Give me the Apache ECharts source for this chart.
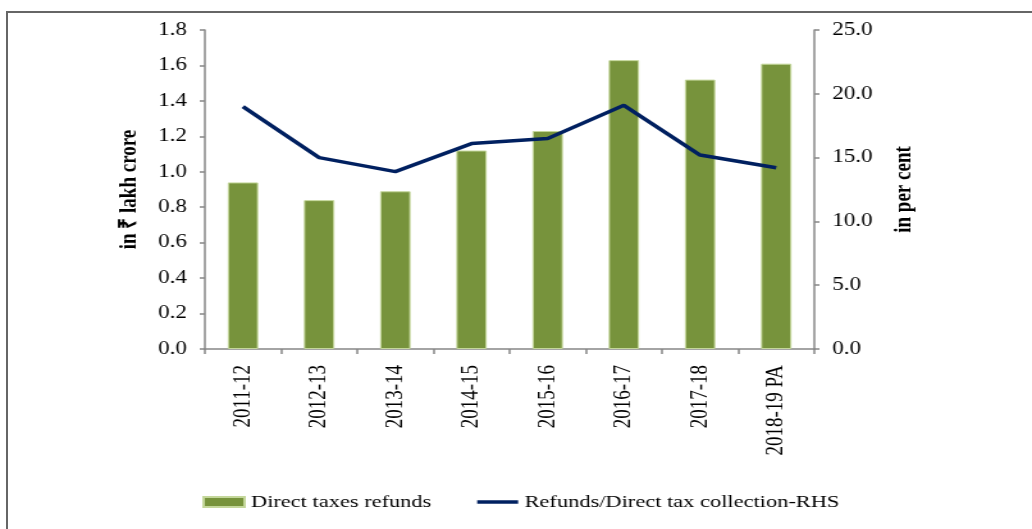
<!DOCTYPE html>
<html>
<head>
<meta charset="utf-8">
<script src="https://cdn.jsdelivr.net/npm/echarts@6/dist/echarts.min.js"></script>
<style>
  html, body { margin: 0; padding: 0; background: #fff; overflow: hidden; }
  #frame { position: absolute; left: 6px; top: 11px; width: 1040px; height: 540px;
           border-left: 2px solid #666; border-top: 2px solid #666; }
  #chart { position: absolute; left: 0; top: 0; width: 806px; height: 529px;
           transform: scaleX(1.2804); transform-origin: 0 0; }
</style>
</head>
<body>
<div id="frame"></div>
<div id="chart"></div>
<script>
const categories = ['2011-12','2012-13','2013-14','2014-15','2015-16','2016-17','2017-18','2018-19 PA'];
const refunds = [0.94, 0.84, 0.89, 1.12, 1.23, 1.63, 1.52, 1.61];
const refundShare = [19.0, 15.0, 13.9, 16.1, 16.5, 19.1, 15.2, 14.2];
const leftTicks = { min: 0, max: 1.8, interval: 0.2 };
const rightTicks = { min: 0, max: 25, interval: 5 };

const FONT = 'Liberation Serif';
const AXIS = '#878787';

const chart = echarts.init(document.getElementById('chart'), null, { renderer: 'canvas' });
chart.setOption({
  animation: false,
  backgroundColor: 'transparent',
  textStyle: { fontFamily: FONT, color: '#000' },
  grid: { left: 160, right: 170, top: 30, bottom: 180, containLabel: false },
  legend: {
    left: 153, top: 488,
    itemWidth: 32, itemHeight: 10, itemGap: 34,
    textStyle: { fontFamily: FONT, fontSize: 17.5, color: '#000' },
    data: [
      { name: 'Direct taxes refunds', icon: 'rect' },
      { name: 'Refunds/Direct tax collection-RHS', itemStyle: { opacity: 0 },
        lineStyle: { color: '#002060', width: 3.5 } }
    ]
  },
  xAxis: {
    type: 'category',
    data: categories,
    axisLine: { lineStyle: { color: AXIS, width: 1.5 } },
    axisTick: { show: true, length: 5, lineStyle: { color: AXIS, width: 1.5 } },
    axisLabel: { rotate: 90, margin: 16, fontFamily: FONT, fontSize: 19, color: '#000', interval: 0 }
  },
  yAxis: [
    {
      type: 'value', min: leftTicks.min, max: leftTicks.max, interval: leftTicks.interval,
      name: 'in ₹ lakh crore', nameLocation: 'middle', nameGap: 49,
      nameTextStyle: { fontFamily: FONT, fontSize: 19, fontWeight: 'bold', color: '#000' },
      axisLine: { show: true, lineStyle: { color: AXIS, width: 1.5 } },
      axisTick: { show: true, length: 4, lineStyle: { color: AXIS, width: 1.5 } },
      splitLine: { show: false },
      axisLabel: { margin: 14, fontFamily: FONT, fontSize: 18, color: '#000',
                   formatter: v => v.toFixed(1) }
    },
    {
      type: 'value', min: rightTicks.min, max: rightTicks.max, interval: rightTicks.interval,
      position: 'right',
      name: 'in per cent', nameLocation: 'middle', nameGap: 61,
      nameTextStyle: { fontFamily: FONT, fontSize: 19, fontWeight: 'bold', color: '#000' },
      axisLine: { show: true, lineStyle: { color: AXIS, width: 1.5 } },
      axisTick: { show: true, length: 4, lineStyle: { color: AXIS, width: 1.5 } },
      splitLine: { show: false },
      axisLabel: { margin: 14, fontFamily: FONT, fontSize: 18, color: '#000',
                   formatter: v => v.toFixed(1) }
    }
  ],
  series: [
    {
      name: 'Direct taxes refunds', type: 'bar', yAxisIndex: 0,
      data: refunds, barWidth: '40%',
      itemStyle: { color: '#77933C', borderColor: '#c4d79b', borderWidth: 1 }
    },
    {
      name: 'Refunds/Direct tax collection-RHS', type: 'line', yAxisIndex: 1,
      data: refundShare, symbol: 'none',
      lineStyle: { color: '#002060', width: 3.5 },
      itemStyle: { color: '#002060' }
    }
  ]
});
</script>
</body>
</html>
